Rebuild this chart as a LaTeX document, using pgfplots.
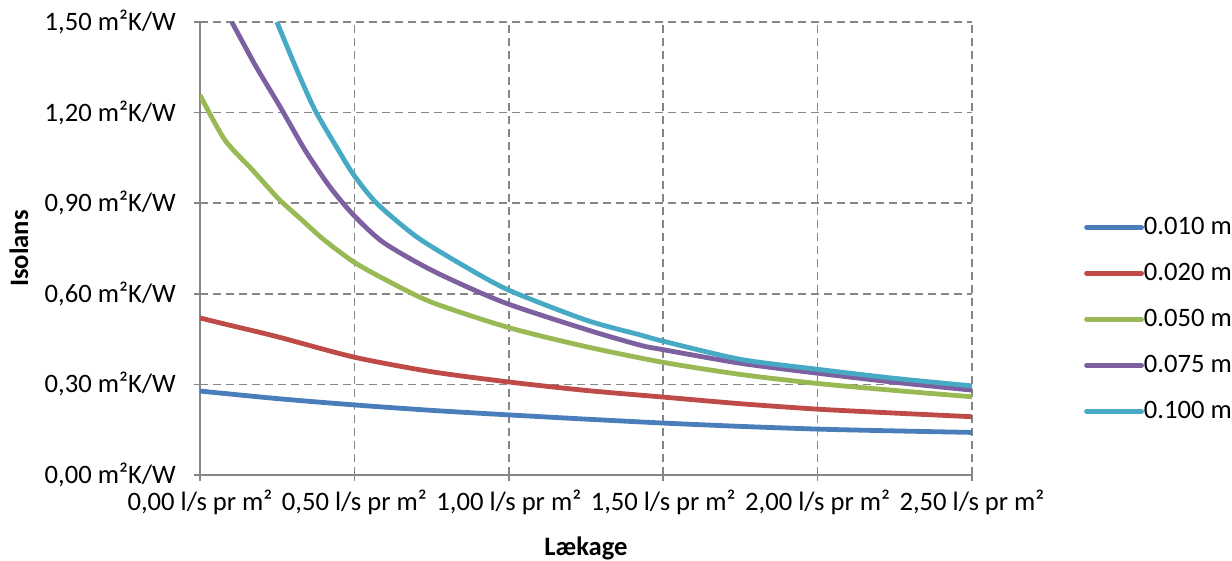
\documentclass[border=0pt]{standalone}
\usepackage{fontspec}
\setmainfont{Carlito}
\usepackage{pgfplots}
\pgfplotsset{compat=1.18}
\definecolor{cblue}{HTML}{4A7EBB}
\definecolor{cred}{HTML}{BE4B48}
\definecolor{cgreen}{HTML}{98B954}
\definecolor{cpurple}{HTML}{7D60A0}
\definecolor{ccyan}{HTML}{46AAC5}
\definecolor{gridgray}{HTML}{868686}
\begin{document}
\fontsize{13.3bp}{16bp}\selectfont
\begin{tikzpicture}
\useasboundingbox (0,0) rectangle (616bp,280.5bp);
\begin{axis}[
  at={(100bp,43bp)}, anchor=south west,
  scale only axis, width=386bp, height=226.5bp,
  xmin=0, xmax=2.5, ymin=0, ymax=1.5,
  xtick={0,0.5,1,1.5,2,2.5},
  ytick={0,0.3,0.6,0.9,1.2,1.5},
  xticklabels={{0,00 l/s pr m²},{0,50 l/s pr m²},{1,00 l/s pr m²},{1,50 l/s pr m²},{2,00 l/s pr m²},{2,50 l/s pr m²}},
  yticklabels={{0,00 m²K/W},{0,30 m²K/W},{0,60 m²K/W},{0,90 m²K/W},{1,20 m²K/W},{1,50 m²K/W}},
  axis x line*=bottom, axis y line*=left,
  axis line style={-, gridgray, line width=0.75bp},
  grid=major,
  major grid style={gridgray, line width=0.75bp, dash pattern=on 4bp off 2.5bp},
  tick align=outside, major tick length=3bp,
  tick style={gridgray, line width=0.75bp},
  xticklabel style={font=\fontsize{13.3bp}{16bp}\selectfont},
  yticklabel style={font=\fontsize{13.3bp}{16bp}\selectfont, xshift=-4.5bp},
  xlabel={\textbf{Lækage}},
  ylabel={\textbf{Isolans}},
  xlabel style={at={(axis description cs:0.5,-0.163)}, anchor=center, font=\fontsize{13.3bp}{16bp}\selectfont},
  ylabel style={at={(axis description cs:-0.2345,0.5)}, anchor=center, font=\fontsize{13.3bp}{16bp}\selectfont},
  legend style={at={(1.137,0.585)}, anchor=north west, draw=none, fill=none,
    font=\fontsize{13.3bp}{16bp}\selectfont,
    row sep=10bp,
    nodes={inner sep=0pt, text height=10bp, text depth=3bp},
    /tikz/every even column/.append style={column sep=0.5bp}},
  legend cell align=left,
  legend image code/.code={\draw[#1, line cap=round] (0bp,0bp) -- (27.5bp,0bp);},
  every axis plot/.append style={line width=2.4bp, line join=round, smooth, tension=0.45},
  clip=true,
]
\addplot[cblue] coordinates {(0,0.278) (0.25,0.253) (0.5,0.232) (0.75,0.214) (1.0,0.199) (1.25,0.185) (1.5,0.172) (1.75,0.161) (2.0,0.152) (2.25,0.146) (2.5,0.141)};
\addlegendentry{0.010 m}
\addplot[cred] coordinates {(0,0.52) (0.1,0.495) (0.25,0.458) (0.5,0.39) (0.75,0.342) (1.0,0.308) (1.25,0.28) (1.5,0.258) (1.75,0.236) (2.0,0.218) (2.25,0.205) (2.5,0.193)};
\addlegendentry{0.020 m}
\addplot[cgreen] coordinates {(0,1.258) (0.08,1.11) (0.17,1.01) (0.254,0.915) (0.324,0.85) (0.4,0.78) (0.497,0.706) (0.6,0.647) (0.75,0.572) (1.0,0.488) (1.25,0.425) (1.5,0.373) (1.75,0.333) (2.0,0.303) (2.25,0.280) (2.5,0.259)};
\addlegendentry{0.050 m}
\addplot[cpurple] coordinates {(0.103,1.5) (0.18,1.355) (0.259,1.22) (0.34,1.076) (0.42,0.955) (0.497,0.861) (0.594,0.77) (0.756,0.675) (0.98,0.573) (1.25,0.482) (1.425,0.43) (1.5,0.415) (1.75,0.37) (2.0,0.337) (2.25,0.307) (2.5,0.281)};
\addlegendentry{0.075 m}
\addplot[ccyan] coordinates {(0.249,1.5) (0.31,1.35) (0.372,1.209) (0.448,1.076) (0.497,0.995) (0.572,0.9) (0.701,0.789) (0.842,0.70) (0.998,0.613) (1.25,0.513) (1.425,0.464) (1.5,0.443) (1.75,0.383) (2.0,0.35) (2.25,0.32) (2.5,0.295)};
\addlegendentry{0.100 m}
\end{axis}
\end{tikzpicture}
\end{document}
